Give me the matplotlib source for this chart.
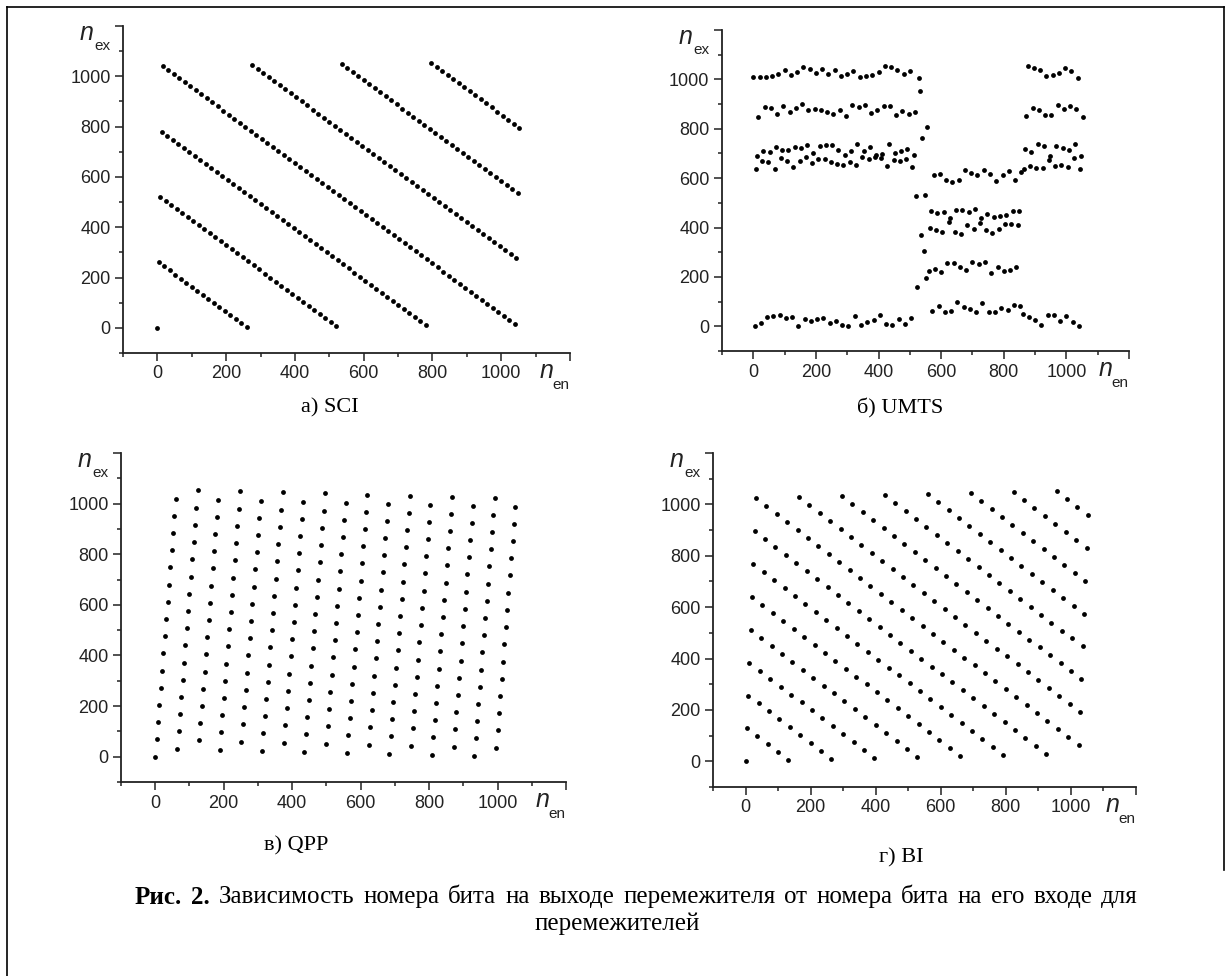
import matplotlib
matplotlib.use("Agg")
import matplotlib.pyplot as plt
from matplotlib.lines import Line2D

# input bit index (every 4th bit shown)
n_en = [0, 4, 8, 12, 16, 20, 24, 28, 32, 36, 40, 44, 48, 52, 56, 60,
        64, 68, 72, 76, 80, 84, 88, 92, 96, 100, 104, 108, 112, 116, 120, 124,
        128, 132, 136, 140, 144, 148, 152, 156, 160, 164, 168, 172, 176, 180, 184, 188,
        192, 196, 200, 204, 208, 212, 216, 220, 224, 228, 232, 236, 240, 244, 248, 252,
        256, 260, 264, 268, 272, 276, 280, 284, 288, 292, 296, 300, 304, 308, 312, 316,
        320, 324, 328, 332, 336, 340, 344, 348, 352, 356, 360, 364, 368, 372, 376, 380,
        384, 388, 392, 396, 400, 404, 408, 412, 416, 420, 424, 428, 432, 436, 440, 444,
        448, 452, 456, 460, 464, 468, 472, 476, 480, 484, 488, 492, 496, 500, 504, 508,
        512, 516, 520, 524, 528, 532, 536, 540, 544, 548, 552, 556, 560, 564, 568, 572,
        576, 580, 584, 588, 592, 596, 600, 604, 608, 612, 616, 620, 624, 628, 632, 636,
        640, 644, 648, 652, 656, 660, 664, 668, 672, 676, 680, 684, 688, 692, 696, 700,
        704, 708, 712, 716, 720, 724, 728, 732, 736, 740, 744, 748, 752, 756, 760, 764,
        768, 772, 776, 780, 784, 788, 792, 796, 800, 804, 808, 812, 816, 820, 824, 828,
        832, 836, 840, 844, 848, 852, 856, 860, 864, 868, 872, 876, 880, 884, 888, 892,
        896, 900, 904, 908, 912, 916, 920, 924, 928, 932, 936, 940, 944, 948, 952, 956,
        960, 964, 968, 972, 976, 980, 984, 988, 992, 996, 1000, 1004, 1008, 1012, 1016, 1020,
        1024, 1028, 1032, 1036, 1040, 1044, 1048, 1052]

# output bit index, a) SCI
sci_ex = [0, 260, 520, 780, 1040, 244, 504, 764, 1024, 228, 488, 748, 1008, 212, 472, 732,
          992, 196, 456, 716, 976, 180, 440, 700, 960, 164, 424, 684, 944, 148, 408, 668,
          928, 132, 392, 652, 912, 116, 376, 636, 896, 100, 360, 620, 880, 84, 344, 604,
          864, 68, 328, 588, 848, 52, 312, 572, 832, 36, 296, 556, 816, 20, 280, 540,
          800, 4, 264, 524, 784, 1044, 248, 508, 768, 1028, 232, 492, 752, 1012, 216, 476,
          736, 996, 200, 460, 720, 980, 184, 444, 704, 964, 168, 428, 688, 948, 152, 412,
          672, 932, 136, 396, 656, 916, 120, 380, 640, 900, 104, 364, 624, 884, 88, 348,
          608, 868, 72, 332, 592, 852, 56, 316, 576, 836, 40, 300, 560, 820, 24, 284,
          544, 804, 8, 268, 528, 788, 1048, 252, 512, 772, 1032, 236, 496, 756, 1016, 220,
          480, 740, 1000, 204, 464, 724, 984, 188, 448, 708, 968, 172, 432, 692, 952, 156,
          416, 676, 936, 140, 400, 660, 920, 124, 384, 644, 904, 108, 368, 628, 888, 92,
          352, 612, 872, 76, 336, 596, 856, 60, 320, 580, 840, 44, 304, 564, 824, 28,
          288, 548, 808, 12, 272, 532, 792, 1052, 256, 516, 776, 1036, 240, 500, 760, 1020,
          224, 484, 744, 1004, 208, 468, 728, 988, 192, 452, 712, 972, 176, 436, 696, 956,
          160, 420, 680, 940, 144, 404, 664, 924, 128, 388, 648, 908, 112, 372, 632, 892,
          96, 356, 616, 876, 80, 340, 600, 860, 64, 324, 584, 844, 48, 308, 568, 828,
          32, 292, 552, 812, 16, 276, 536, 796]

# output bit index, б) UMTS
umts_ex = [1008, 1, 637, 690, 849, 1009, 14, 669, 710, 887, 1011, 37, 665, 706, 885,
           1015, 41, 639, 728, 860, 1023, 44, 682, 713, 892, 1039, 33, 670, 716, 868,
           1018, 38, 645, 726, 886, 1029, 2, 668, 724, 899, 1051, 28, 685, 735, 876,
           1042, 21, 663, 701, 880, 1024, 29, 679, 729, 877, 1041, 35, 677, 734, 866,
           1022, 13, 664, 733, 861, 1037, 23, 659, 712, 878, 1014, 4, 653, 695, 852,
           1021, 3, 667, 709, 898, 1035, 42, 652, 738, 890, 1010, 5, 687, 711, 896,
           1013, 17, 676, 727, 865, 1019, 26, 684, 692, 875, 1031, 46, 683, 699, 894,
           1055, 8, 650, 740, 893, 1050, 6, 674, 700, 854, 1040, 31, 671, 708, 870,
           1020, 10, 678, 717, 858, 1033, 34, 644, 694, 867,
           529, 158, 1006, 953, 370, 762, 306, 532, 194, 807,
           222, 399, 466, 63, 611, 234, 390, 459, 84, 617, 218, 382, 462, 59, 594,
           257, 422, 438, 61, 585, 258, 381, 471, 99, 593, 239, 374, 472, 79, 633,
           229, 409, 464, 70, 621, 260, 393, 475, 58, 614, 254, 420, 440, 95, 632,
           262, 391, 455, 56, 616, 216, 377, 441, 57, 589, 242, 394, 447, 76, 613,
           225, 415, 452, 66, 627, 230, 416, 465, 88, 591, 241, 411, 467, 82, 623,
           48, 638, 720, 853,
           1054, 36, 649, 704, 884, 1048, 27, 641, 739, 874, 1036, 7, 642, 732, 855,
           1012, 45, 675, 691, 856, 1017, 47, 651, 731, 895, 1027, 22, 654, 723, 879,
           1047, 43, 647, 714, 891, 1034, 19, 681, 737, 882, 1007, 0, 636, 689, 848]

# output bit index, в) QPP
qpp_ex = [0, 68, 136, 204, 272, 340, 408, 476, 544, 612, 680, 748, 816, 884, 952, 1020,
          32, 100, 168, 236, 304, 372, 440, 508, 576, 644, 712, 780, 848, 916, 984, 1052,
          64, 132, 200, 268, 336, 404, 472, 540, 608, 676, 744, 812, 880, 948, 1016,
          28, 96, 164, 232, 300, 368, 436, 504, 572, 640, 708, 776, 844, 912, 980, 1048,
          60, 128, 196, 264, 332, 400, 468, 536, 604, 672, 740, 808, 876, 944, 1012,
          24, 92, 160, 228, 296, 364, 432, 500, 568, 636, 704, 772, 840, 908, 976, 1044,
          56, 124, 192, 260, 328, 396, 464, 532, 600, 668, 736, 804, 872, 940, 1008,
          20, 88, 156, 224, 292, 360, 428, 496, 564, 632, 700, 768, 836, 904, 972, 1040,
          52, 120, 188, 256, 324, 392, 460, 528, 596, 664, 732, 800, 868, 936, 1004,
          16, 84, 152, 220, 288, 356, 424, 492, 560, 628, 696, 764, 832, 900, 968, 1036,
          48, 116, 184, 252, 320, 388, 456, 524, 592, 660, 728, 796, 864, 932, 1000,
          12, 80, 148, 216, 284, 352, 420, 488, 556, 624, 692, 760, 828, 896, 964, 1032,
          44, 112, 180, 248, 316, 384, 452, 520, 588, 656, 724, 792, 860, 928, 996,
          8, 76, 144, 212, 280, 348, 416, 484, 552, 620, 688, 756, 824, 892, 960, 1028,
          40, 108, 176, 244, 312, 380, 448, 516, 584, 652, 720, 788, 856, 924, 992,
          4, 72, 140, 208, 276, 344, 412, 480, 548, 616, 684, 752, 820, 888, 956, 1024,
          36, 104, 172, 240, 308, 376, 444, 512, 580, 648, 716, 784, 852, 920, 988]

# output bit index, г) BI
bi_ex = [0, 128, 256, 384, 512, 640, 768, 896, 1024, 97, 225, 353, 481, 609, 737, 865, 993,
         66, 194, 322, 450, 578, 706, 834, 962, 35, 163, 291, 419, 547, 675, 803, 931,
         4, 132, 260, 388, 516, 644, 772, 900, 1028, 101, 229, 357, 485, 613, 741, 869, 997,
         70, 198, 326, 454, 582, 710, 838, 966, 39, 167, 295, 423, 551, 679, 807, 935,
         8, 136, 264, 392, 520, 648, 776, 904, 1032, 105, 233, 361, 489, 617, 745, 873, 1001,
         74, 202, 330, 458, 586, 714, 842, 970, 43, 171, 299, 427, 555, 683, 811, 939,
         12, 140, 268, 396, 524, 652, 780, 908, 1036, 109, 237, 365, 493, 621, 749, 877, 1005,
         78, 206, 334, 462, 590, 718, 846, 974, 47, 175, 303, 431, 559, 687, 815, 943,
         16, 144, 272, 400, 528, 656, 784, 912, 1040, 113, 241, 369, 497, 625, 753, 881, 1009,
         82, 210, 338, 466, 594, 722, 850, 978, 51, 179, 307, 435, 563, 691, 819, 947,
         20, 148, 276, 404, 532, 660, 788, 916, 1044, 117, 245, 373, 501, 629, 757, 885, 1013,
         86, 214, 342, 470, 598, 726, 854, 982, 55, 183, 311, 439, 567, 695, 823, 951,
         24, 152, 280, 408, 536, 664, 792, 920, 1048, 121, 249, 377, 505, 633, 761, 889, 1017,
         90, 218, 346, 474, 602, 730, 858, 986, 59, 187, 315, 443, 571, 699, 827, 955,
         28, 156, 284, 412, 540, 668, 796, 924, 1052, 125, 253, 381, 509, 637, 765, 893, 1021,
         94, 222, 350, 478, 606, 734, 862, 990, 63, 191, 319, 447, 575, 703, 831, 959]

tick_vals = [0, 200, 400, 600, 800, 1000, 1200]
tick_text = ["0", "200", "400", "600", "800", "1000", ""]
minor_vals = [-100, 100, 300, 500, 700, 900, 1100]

caption_bold = ["Рис.", "2."]
caption_line1 = "Зависимость номера бита на выходе перемежителя от номера бита на его входе для"
caption_line2 = "перемежителей"

W, H = 1232, 976
fig = plt.figure(figsize=(W / 100, H / 100), dpi=100)
sans = "Liberation Sans"
serif = "Liberation Serif"


def px_axes(l, t, r, b):
    return fig.add_axes([l / W, 1 - b / H, (r - l) / W, (b - t) / H])


panels = [
    (sci_ex, (123, 26, 570, 353), "а) SCI", (330, 408)),
    (umts_ex, (722, 30, 1129, 351), "б) UMTS", (900, 408)),
    (qpp_ex, (121, 453, 566, 782), "в) QPP", (296, 846)),
    (bi_ex, (713, 453, 1136, 787), "г) BI", (901, 858)),
]

for y, rect, title, tpos in panels:
    ax = px_axes(*rect)
    ax.scatter(n_en, y, s=12, c="black", marker="o", linewidths=0, clip_on=False)
    ax.set_xlim(-100, 1200)
    ax.set_ylim(-100, 1200)
    for side in ["top", "right"]:
        ax.spines[side].set_visible(False)
    for side in ["left", "bottom"]:
        ax.spines[side].set_linewidth(1.3)
        ax.spines[side].set_color("#222222")
    ax.set_xticks(tick_vals)
    ax.set_xticklabels(tick_text, fontfamily=sans, fontsize=13, color="#222222")
    ax.set_yticks(tick_vals)
    ax.set_yticklabels(tick_text, fontfamily=sans, fontsize=13, color="#222222")
    ax.set_xticks(minor_vals, minor=True)
    ax.set_yticks(minor_vals, minor=True)
    ax.tick_params(which="major", direction="out", length=6, width=1.1, pad=3, color="#222222")
    ax.tick_params(which="minor", direction="out", length=3, width=1.1, color="#222222")

    # axis names
    ax.annotate("n", xy=(0, 1), xycoords="axes fraction", xytext=(-36, -7),
                textcoords="offset pixels", ha="center", va="center",
                fontfamily=sans, fontstyle="italic", fontsize=18, color="#222222")
    ax.annotate("ex", xy=(0, 1), xycoords="axes fraction", xytext=(-21, -20),
                textcoords="offset pixels", ha="center", va="center",
                fontfamily=sans, fontsize=11, color="#222222")
    ax.annotate("n", xy=(1, 0), xycoords="axes fraction", xytext=(-23, -18),
                textcoords="offset pixels", ha="center", va="center",
                fontfamily=sans, fontstyle="italic", fontsize=18, color="#222222")
    ax.annotate("en", xy=(1, 0), xycoords="axes fraction", xytext=(-9, -32),
                textcoords="offset pixels", ha="center", va="center",
                fontfamily=sans, fontsize=11, color="#222222")

    fig.text(tpos[0] / W, 1 - tpos[1] / H, title, ha="center", va="center",
             fontfamily=serif, fontsize=16)

# caption: first line spread between two margins, second line centred
renderer = fig.canvas.get_renderer()
cap_left, cap_right, cap_y = 135, 1138, 897
words = [(w, "bold") for w in caption_bold] + [(w, "normal") for w in caption_line1.split()]
texts = []
for w, weight in words:
    t = fig.text(0, 1 - cap_y / H, w, ha="left", va="center",
                 fontfamily=serif, fontsize=18, fontweight=weight)
    texts.append(t)
widths = [t.get_window_extent(renderer=renderer).width for t in texts]
gap = (cap_right - cap_left - sum(widths)) / (len(texts) - 1)
x = cap_left
for t, w in zip(texts, widths):
    t.set_x(x / W)
    x += w + gap
fig.text(617 / W, 1 - 924 / H, caption_line2, ha="center", va="center",
         fontfamily=serif, fontsize=18)

# page frame
fig.add_artist(Line2D([7 / W, 7 / W], [0, 1 - 7 / H], color="black", lw=1.2))
fig.add_artist(Line2D([7 / W, 1224 / W], [1 - 7 / H, 1 - 7 / H], color="black", lw=1.2))
fig.add_artist(Line2D([1224 / W, 1224 / W], [1 - 7 / H, 1 - 870 / H], color="black", lw=1.2))

fig.savefig("out.png", dpi=100)
